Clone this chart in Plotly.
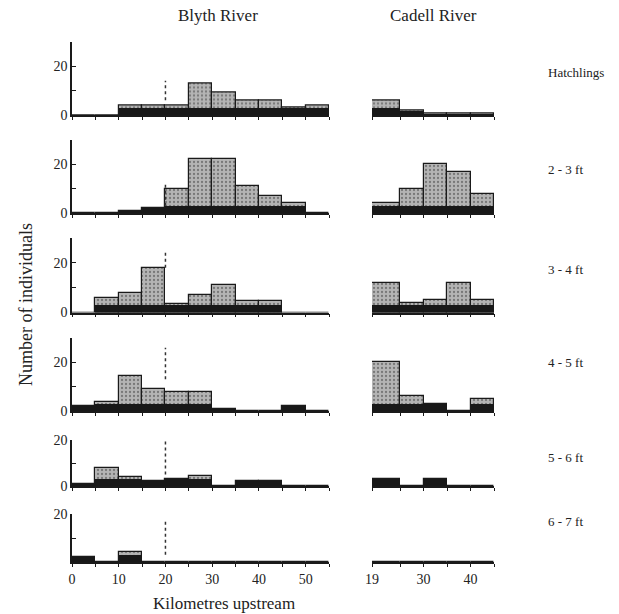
import plotly.graph_objects as go

W, H = 619, 614

# ---------------- data ----------------
rivers = ["Blyth River", "Cadell River"]
size_classes = ["Hatchlings", "2 - 3 ft", "3 - 4 ft", "4 - 5 ft", "5 - 6 ft", "6 - 7 ft"]

blyth_edges = [0, 5, 10, 15, 20, 25, 30, 35, 40, 45, 50, 55]
cadell_edges = [19, 25, 30, 35, 40, 45]

blyth_hatchlings = [0, 0, 4, 4, 4, 13, 9, 6, 6, 3, 4]
blyth_2_3 = [0, 0, 1, 2, 10, 22, 22, 11, 7, 4, 0]
blyth_3_4 = [0, 6, 8, 18, 3.5, 7, 11, 4.5, 4.5, 0, 0]
blyth_4_5 = [2, 3.5, 14.5, 9, 8, 8, 1, 0, 0, 2, 0]
blyth_5_6 = [1, 8, 4, 2, 3, 4.5, 0, 2, 2, 0, 0]
blyth_6_7 = [2, 0, 4, 0, 0, 0, 0, 0, 0, 0, 0]

cadell_hatchlings = [6, 2, 0.7, 0.7, 0.7]
cadell_2_3 = [4, 10, 20, 17, 8]
cadell_3_4 = [12, 4, 5, 12, 5]
cadell_4_5 = [20, 6, 3, 0, 5]
cadell_5_6 = [3, 0, 3, 0, 0]
cadell_6_7 = [0, 0, 0, 0, 0]

blyth_series = [blyth_hatchlings, blyth_2_3, blyth_3_4, blyth_4_5, blyth_5_6, blyth_6_7]
cadell_series = [cadell_hatchlings, cadell_2_3, cadell_3_4, cadell_4_5, cadell_5_6, cadell_6_7]

y_max = [30, 30, 30, 30, 20, 20]
blyth_ticks = [0, 5, 10, 15, 20, 25, 30, 35, 40, 45, 50, 55]
blyth_ticklabels = ["0", "", "10", "", "20", "", "30", "", "40", "", "50", ""]
cadell_ticks = [19, 25, 30, 35, 40, 45]
cadell_ticklabels = ["19", "", "30", "", "40", ""]

# ---------------- layout geometry (pixels) ----------------
rows_px = [(41.5, 115), (140, 213), (238, 312.5), (338, 411), (440, 486), (514, 562)]
blyth_px = (72, 329)
cadell_px = (372, 494)
dash_spans = [(6, 14), (3, 12), (18, 25), (13, 26), (5, 21), (3, 17)]

FONT = "Liberation Serif"
INK = "#1a1a1a"

fig = go.Figure()
layout = {}
shapes = []


def centers_widths(edges):
    c = [(edges[i] + edges[i + 1]) / 2 for i in range(len(edges) - 1)]
    w = [edges[i + 1] - edges[i] for i in range(len(edges) - 1)]
    return c, w


n = 0
for r in range(6):
    top, base = rows_px[r]
    ydom = [1 - base / H, 1 - top / H]
    for col in range(2):
        n += 1
        xn = "x" if n == 1 else f"x{n}"
        yn = "y" if n == 1 else f"y{n}"
        xkey = "xaxis" if n == 1 else f"xaxis{n}"
        ykey = "yaxis" if n == 1 else f"yaxis{n}"
        if col == 0:
            edges, vals, px = blyth_edges, blyth_series[r], blyth_px
            ticks, ticklabels = blyth_ticks, blyth_ticklabels
        else:
            edges, vals, px = cadell_edges, cadell_series[r], cadell_px
            ticks, ticklabels = cadell_ticks, cadell_ticklabels
        c, w = centers_widths(edges)
        fig.add_trace(go.Bar(
            x=c, y=vals, width=w, xaxis=xn, yaxis=yn,
            marker=dict(color="#b0b0b0", line=dict(color=INK, width=1.2),
                        pattern=dict(shape=".", fgcolor="#3a3a3a", bgcolor="#b4b4b4",
                                     size=4, solidity=0.25)),
            showlegend=False, hoverinfo="skip"))
        fig.add_trace(go.Bar(
            x=c, y=[min(v, 3.0) for v in vals], width=w, xaxis=xn, yaxis=yn,
            marker=dict(color="#181818", line=dict(width=0)),
            showlegend=False, hoverinfo="skip"))
        layout[xkey] = dict(
            domain=[px[0] / W, px[1] / W], range=[edges[0], edges[-1]], anchor=yn,
            automargin=False,
            showline=True, linecolor=INK, linewidth=1.5, showgrid=False, zeroline=False,
            ticks="outside", ticklen=3, tickwidth=1.2, tickcolor=INK,
            tickmode="array", tickvals=ticks,
            ticktext=ticklabels if r == 5 else [""] * len(ticks),
            tickfont=dict(family=FONT, size=14, color="#222"))
        if col == 0:
            if y_max[r] == 30:
                yt, ytt = [0, 10, 20, 30], ["0", "", "20", ""]
            else:
                yt, ytt = [0, 10, 20], ["0" if r < 5 else "", "", "20"]
            layout[ykey] = dict(
                domain=ydom, range=[0, y_max[r]], anchor=xn, automargin=False,
                showline=True, linecolor=INK, linewidth=1.5, showgrid=False, zeroline=False,
                ticks="inside", ticklen=4, tickwidth=1.2, tickcolor=INK,
                tickmode="array", tickvals=yt, ticktext=ytt,
                tickfont=dict(family=FONT, size=14, color="#222"))
            d0, d1 = dash_spans[r]
            shapes.append(dict(type="line", xref=xn, yref=yn, x0=20, x1=20, y0=d0, y1=d1,
                               line=dict(color="#333", width=1.5, dash="3px,3px")))
        else:
            layout[ykey] = dict(domain=ydom, range=[0, y_max[r]], anchor=xn,
                                visible=False, automargin=False)


def ann(text, x, y, size, xanchor="center", angle=0):
    return dict(text=text, x=x / W, y=1 - y / H, xref="paper", yref="paper",
                xanchor=xanchor, yanchor="middle", showarrow=False, textangle=angle,
                font=dict(family=FONT, size=size, color="#222"))


annotations = [
    ann(rivers[0], 218, 15, 17),
    ann(rivers[1], 433, 15, 17),
    ann("Number of individuals", 26, 305, 18, angle=-90),
    ann("Kilometres upstream", 224, 603, 17),
]
label_y = [72, 169, 269, 362, 457, 521]
for lbl, ly in zip(size_classes, label_y):
    annotations.append(ann(lbl, 546, ly, 13, xanchor="left"))

fig.update_layout(
    width=W, height=H, margin=dict(l=0, r=0, t=0, b=0, autoexpand=False),
    paper_bgcolor="white", plot_bgcolor="white",
    barmode="overlay", bargap=0, showlegend=False,
    annotations=annotations, shapes=shapes, **layout)

fig.write_html("out.html")
